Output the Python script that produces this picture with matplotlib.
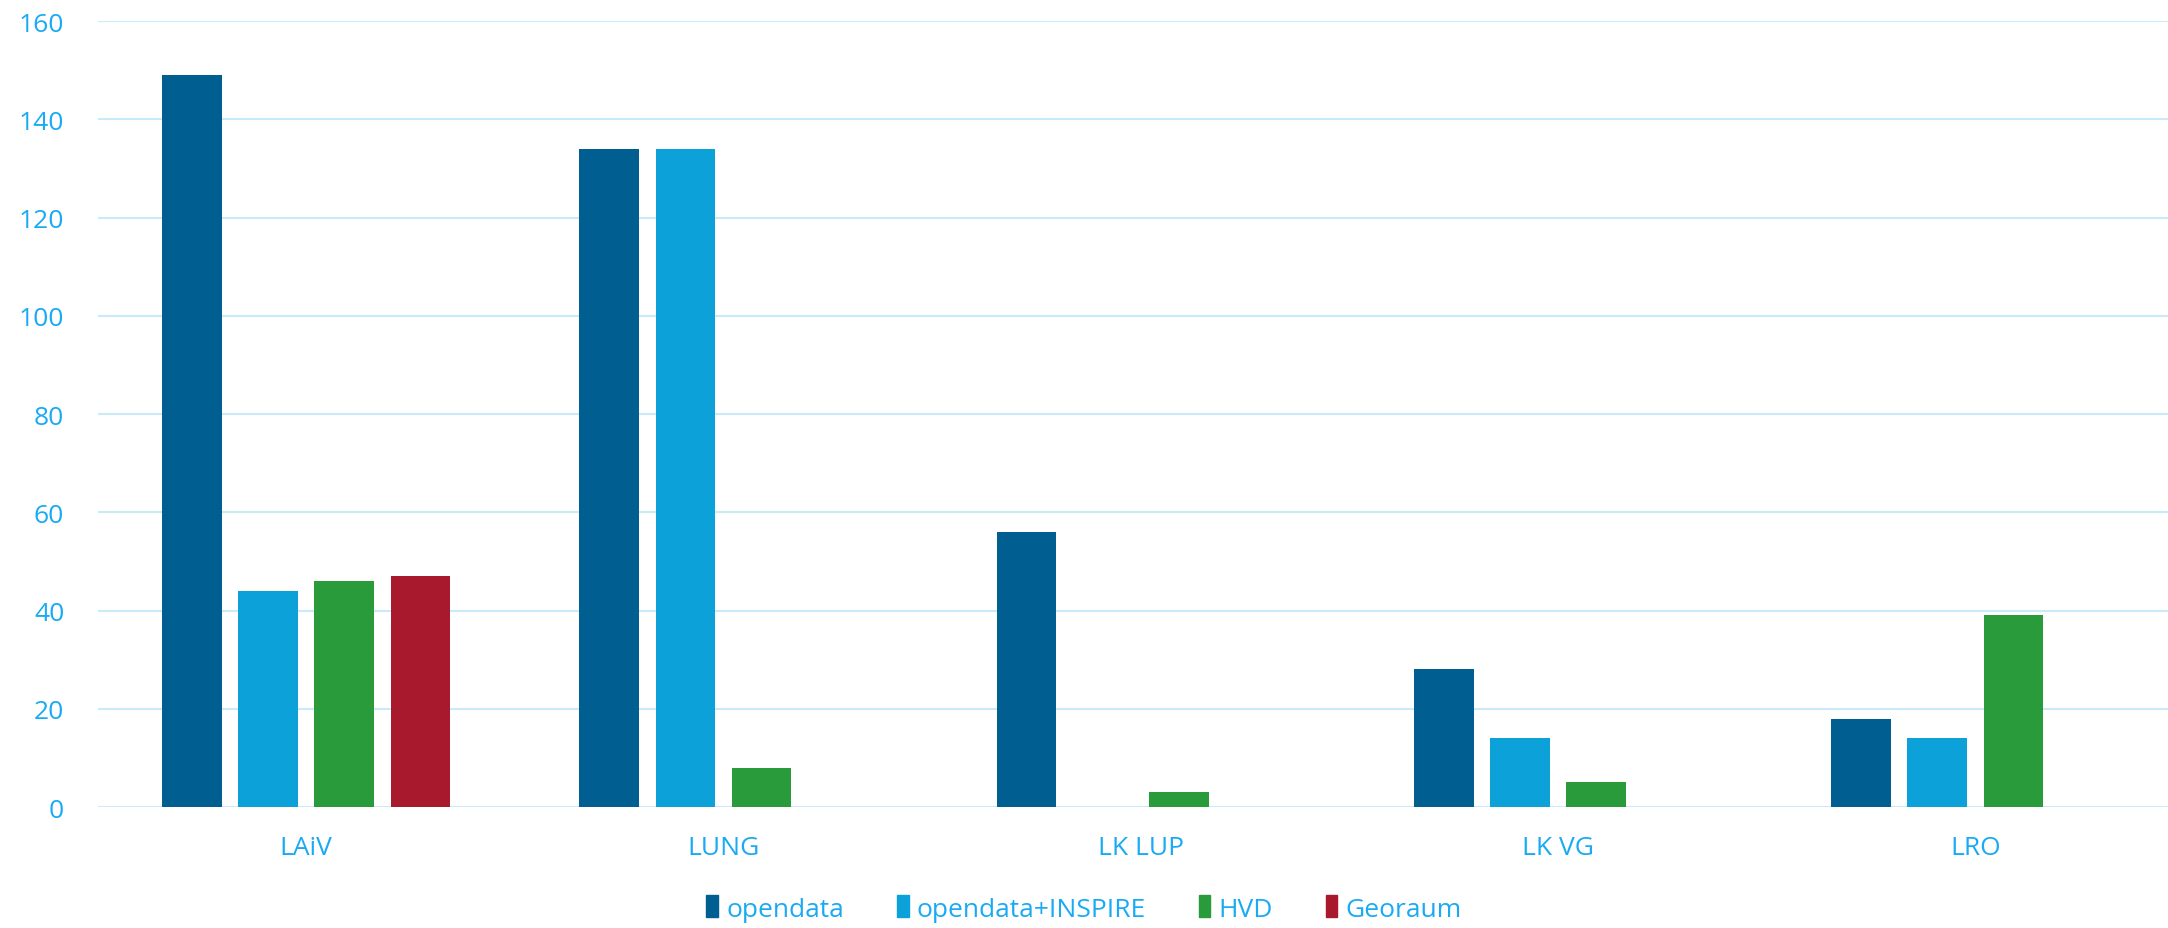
import numpy as np
import matplotlib.pyplot as plt
from matplotlib.patches import Patch

categories = ['LAiV', 'LUNG', 'LK LUP', 'LK VG', 'LRO']
series_names = ['opendata', 'opendata+INSPIRE', 'HVD', 'Georaum']
opendata = [149, 134, 56, 28, 18]
opendata_inspire = [44, 134, 0, 14, 14]
hvd = [46, 8, 3, 5, 39]
georaum = [47, 0, 0, 0, 0]
yticks = [0, 20, 40, 60, 80, 100, 120, 140, 160]

colors = ['#005f90', '#0ca2d9', '#2a9b3a', '#a8192e']
text_color = '#19aaf5'
grid_color = '#c9eafb'

plt.rcParams['font.family'] = ['Open Sans', 'DejaVu Sans']

fig = plt.figure(figsize=(21.68, 9.29), dpi=100)
# axes runs a little past the right edge, like the original
ax = fig.add_axes([0.045, 0.1302, 0.9624, 0.8461])

x = np.arange(len(categories))
step = 0.1825
width = 0.143
all_series = [opendata, opendata_inspire, hvd, georaum]
for i, vals in enumerate(all_series):
    ax.bar(x + (i - 1.5) * step, vals, width, color=colors[i], zorder=3)

ax.set_xlim(-0.5, len(categories) - 0.5)
ax.set_ylim(0, 160)
ax.set_yticks(yticks)
ax.set_xticks(x)
ax.set_xticklabels(categories)
ax.yaxis.grid(True, color=grid_color, linewidth=1.5, zorder=0)
ax.tick_params(axis='both', length=0, colors=text_color)
ax.tick_params(axis='y', pad=24, labelsize=19)
ax.tick_params(axis='x', pad=20, labelsize=19)
for s in ax.spines.values():
    s.set_visible(False)

handles = [Patch(color=c, label=n) for c, n in zip(colors, series_names)]
leg = fig.legend(handles=handles, loc='center', bbox_to_anchor=(0.5, 0.021),
                 ncol=4, frameon=False, fontsize=19, handlelength=0.45, handleheight=0.9,
                 handletextpad=0.3, columnspacing=2.0)
for t in leg.get_texts():
    t.set_color(text_color)

fig.savefig('out.png', dpi=100)
